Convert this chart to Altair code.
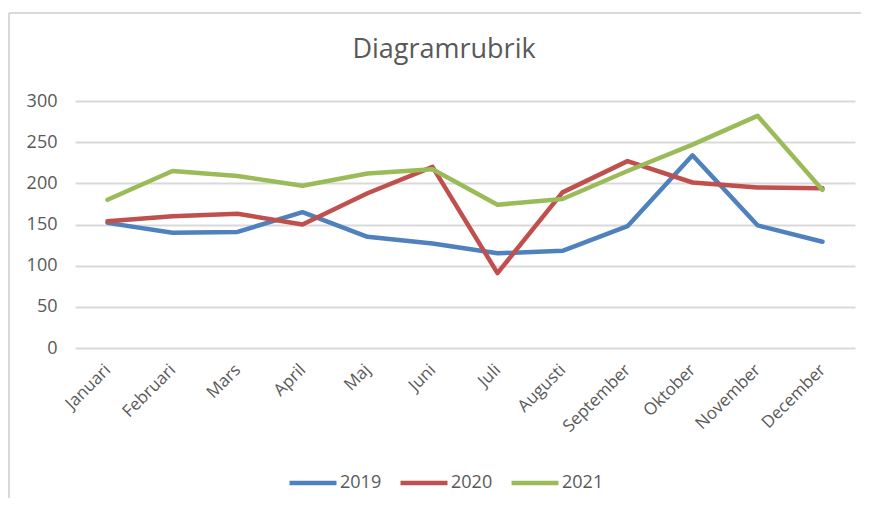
import altair as alt
import pandas as pd

months = ["Januari", "Februari", "Mars", "April", "Maj", "Juni", "Juli",
          "Augusti", "September", "Oktober", "November", "December"]
s2019 = [152, 140, 141, 165, 135, 127, 115, 118, 148, 234, 149, 129]
s2020 = [154, 160, 163, 150, 188, 220, 91, 189, 227, 201, 195, 194]
s2021 = [180, 215, 209, 197, 212, 217, 174, 181, 215, 247, 282, 192]
years = ["2019", "2020", "2021"]
colors = ["#4F81BD", "#C0504D", "#9BBB59"]

rows = []
for yr, vals in zip(years, [s2019, s2020, s2021]):
    for m, v in zip(months, vals):
        rows.append({"Månad": m, "År": yr, "Värde": v})
df = pd.DataFrame(rows)

FONT = "Open Sans"
TXT = "#595959"
GRID = "#D9D9D9"

lines = alt.Chart(df).mark_line(
    strokeWidth=4.5, strokeCap="round", strokeJoin="round"
).encode(
    x=alt.X("Månad:N", sort=months, title=None,
            scale=alt.Scale(paddingInner=1, paddingOuter=0.5),
            axis=alt.Axis(labelAngle=-45, labelAlign="right", labelBaseline="middle",
                          labelPadding=19, ticks=False, domain=False, grid=False,
                          labelFont=FONT, labelFontSize=17, labelColor=TXT)),
    y=alt.Y("Värde:Q", title=None,
            scale=alt.Scale(domain=[0, 300], nice=False),
            axis=alt.Axis(values=[0, 50, 100, 150, 200, 250, 300], ticks=False,
                          domain=False, gridColor=GRID, gridWidth=2,
                          labelPadding=18, labelFont=FONT, labelFontSize=18,
                          labelColor=TXT)),
    color=alt.Color("År:N", scale=alt.Scale(domain=years, range=colors),
                    legend=alt.Legend(title=None, orient="none", direction="horizontal",
                                      legendX=212, legendY=356,
                                      symbolType="stroke", symbolSize=2209,
                                      symbolStrokeWidth=4.5, labelFont=FONT,
                                      labelFontSize=18, labelColor=TXT,
                                      labelOffset=1, columnPadding=9, padding=0)),
)

frame_top = alt.Chart(pd.DataFrame({"a": [0]})).mark_rule(color=GRID, strokeWidth=2).encode(
    x=alt.value(-66), x2=alt.value(790), y=alt.value(-88)
)
frame_left = alt.Chart(pd.DataFrame({"a": [0]})).mark_rule(color=GRID, strokeWidth=2).encode(
    x=alt.value(-66), y=alt.value(-88), y2=alt.value(410)
)

chart = alt.layer(frame_top, frame_left, lines).properties(
    width=780, height=247,
    title=alt.TitleParams("Diagramrubrik", font=FONT, fontSize=27, fontWeight="normal",
                          color=TXT, anchor="middle", dx=-21, offset=-52),
    autosize=alt.AutoSizeParams(type="none"),
    padding={"left": 67, "top": 93, "right": 6, "bottom": 150},
).configure(background="white").configure_view(stroke=None)

chart.save("out.html", embed_options={"renderer": "svg", "actions": False})
